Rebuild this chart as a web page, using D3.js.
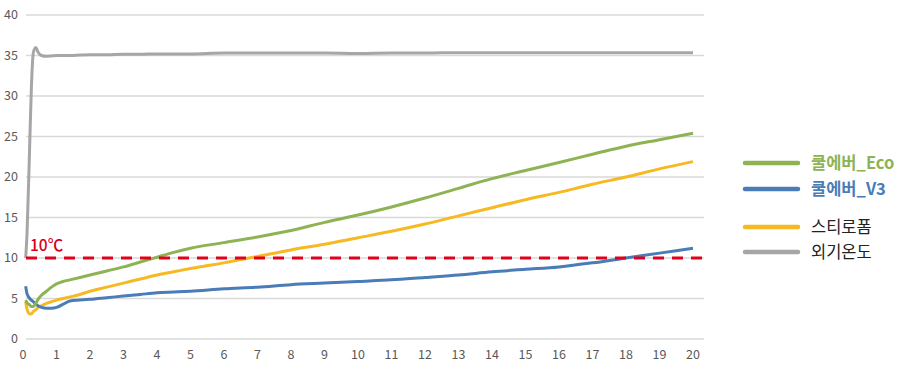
<!DOCTYPE html>
<html><head><meta charset="utf-8">
<script src="https://cdn.jsdelivr.net/npm/d3@7"></script>
<style>
html,body{margin:0;padding:0;background:#fff;}
svg{display:block;font-family:"Noto Sans CJK KR","Noto Sans",sans-serif;}
</style></head>
<body><svg id="chart" width="921" height="379"></svg>
<script>
const times = [0.08,0.12,0.2,0.25,0.31,0.38,0.45,0.55,0.7,0.85,1,1.2,1.4,1.7,2,2.5,3,3.5,4,4.5,5,6,7,8,9,10,11,12,13,14,15,16,17,18,19,20];
const ecoValues = [4.8,4.5,4.2,4.0,4.0,4.4,4.9,5.4,5.9,6.4,6.8,7.1,7.3,7.6,7.9,8.4,8.9,9.5,10.1,10.7,11.2,11.9,12.6,13.4,14.4,15.3,16.3,17.4,18.6,19.8,20.8,21.8,22.8,23.8,24.6,25.4];
const v3Values = [6.5,5.6,5.0,4.8,4.6,4.3,4.1,3.9,3.8,3.8,3.9,4.3,4.7,4.8,4.9,5.1,5.3,5.5,5.7,5.8,5.9,6.2,6.4,6.7,6.9,7.1,7.3,7.6,7.9,8.3,8.6,8.9,9.4,10.0,10.6,11.2];
const styroValues = [4.6,3.7,3.1,3.1,3.4,3.6,3.9,4.1,4.4,4.6,4.8,5.0,5.2,5.5,5.9,6.4,6.9,7.4,7.9,8.3,8.7,9.4,10.2,11.0,11.7,12.5,13.3,14.2,15.2,16.2,17.2,18.1,19.1,20.0,21.0,21.9];
const outsideValues = [10,13,24,31,35.4,36.0,35.4,35.0,34.9,34.95,35.0,35.0,35.0,35.05,35.1,35.1,35.15,35.15,35.2,35.2,35.2,35.3,35.3,35.3,35.3,35.25,35.3,35.3,35.35,35.35,35.35,35.35,35.35,35.35,35.35,35.35];
const seriesNames = ["쿨에버_Eco","쿨에버_V3","스티로폼","외기온도"];
const seriesColors = ["#8db352","#4a7cb8","#f6b922","#a6a6a6"];
const xTicks = d3.range(0,21,1);
const yTicks = [0,5,10,15,20,25,30,35,40];
const threshold = 10;
const thresholdLabel = "10℃";

const svg = d3.select("#chart");
const x = d3.scaleLinear().domain([0,20]).range([23,693]);
const y = d3.scaleLinear().domain([0,40]).range([339,15]);
const gridX1 = 26, gridX2 = 704;

svg.append("g").selectAll("line").data(yTicks).join("line")
  .attr("x1",gridX1).attr("x2",gridX2)
  .attr("y1",d=>y(d)).attr("y2",d=>y(d))
  .attr("stroke","#d9d9d9").attr("stroke-width",1.5);

svg.append("g").selectAll("text").data(yTicks).join("text")
  .attr("x",18).attr("y",d=>y(d)).attr("dy","0.35em")
  .attr("text-anchor","end").attr("font-size",12.5).attr("fill","#595959")
  .text(d=>d);
svg.append("g").selectAll("text").data(xTicks).join("text")
  .attr("x",d=>x(d)).attr("y",359)
  .attr("text-anchor","middle").attr("font-size",12.5).attr("fill","#595959")
  .text(d=>d);

const series = [ecoValues,v3Values,styroValues,outsideValues];
const line = d3.line().x((d,i)=>x(times[i])).y(d=>y(d)).curve(d3.curveMonotoneX);
[3,2,1,0].forEach(k=>{
  svg.append("path").datum(series[k])
    .attr("d",line).attr("fill","none")
    .attr("stroke",seriesColors[k]).attr("stroke-width",3)
    .attr("stroke-linejoin","round");
});

svg.append("line")
  .attr("x1",gridX1).attr("x2",gridX2)
  .attr("y1",y(threshold)).attr("y2",y(threshold))
  .attr("stroke","#e3001b").attr("stroke-width",3)
  .attr("stroke-dasharray","11,8");
svg.append("text").attr("x",30).attr("y",y(threshold)-7)
  .attr("font-size",15.5).attr("font-weight",500).attr("fill","#d9001b").text(thresholdLabel);

const legendY = [163,189,227,252];
const legendTextColors = [seriesColors[0],seriesColors[1],"#222","#222"];
const lg = svg.append("g");
seriesNames.forEach((name,i)=>{
  lg.append("line").attr("x1",745).attr("x2",798)
    .attr("y1",legendY[i]).attr("y2",legendY[i])
    .attr("stroke",seriesColors[i]).attr("stroke-width",4.5).attr("stroke-linecap","round");
  lg.append("text").attr("x",811).attr("y",legendY[i]).attr("dy","0.35em")
    .attr("font-size",16.5).attr("font-weight",i<2?600:400)
    .attr("fill",legendTextColors[i]).text(name);
});
</script></body></html>
